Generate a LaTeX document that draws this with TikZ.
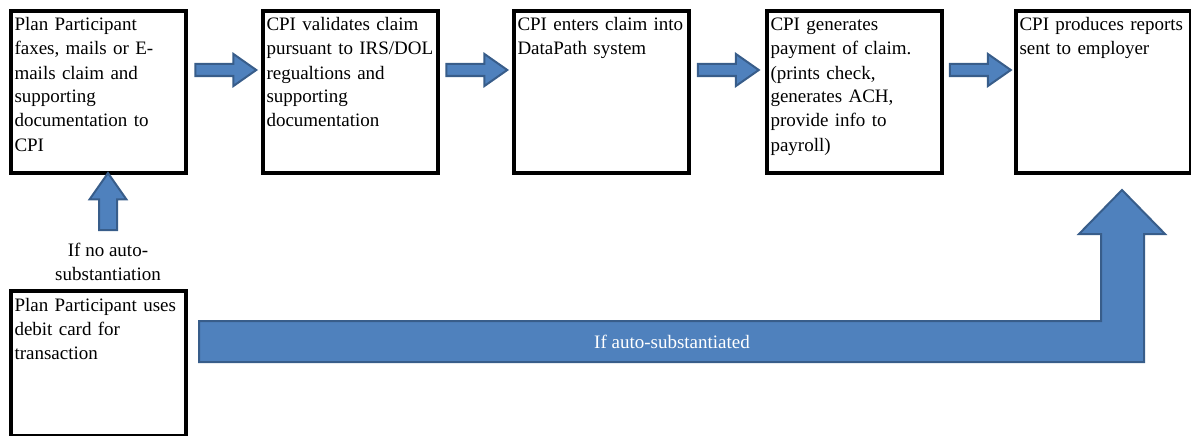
\documentclass[tikz,border=0pt]{standalone}
\usepackage{fontspec}
\setmainfont{Liberation Serif}
\usepackage{xcolor}
\usepackage{tikz}
\usetikzlibrary{shapes.arrows}

\definecolor{flowfill}{HTML}{4F81BD}
\definecolor{flowline}{HTML}{385D8A}

\begin{document}
\begin{tikzpicture}[x=1pt, y=-1pt,
  stepbox/.style={draw, line width=4pt, anchor=north west, align=left,
                  text width=168pt, inner xsep=3.5pt, inner ysep=7pt,
                  text height=13pt, text depth=#1,
                  font=\fontsize{19}{24}\selectfont},
  stepbox/.default=135pt,
  flow/.style={single arrow, fill=flowfill, draw=flowline, line width=2pt,
               single arrow tip angle=70},
  bigflow/.style={fill=flowfill, draw=flowline, line width=2pt},
  note/.style={align=center, inner sep=0pt, font=\fontsize{19}{24}\selectfont}
]
\useasboundingbox (0,0) rectangle (1191,436);

% claim steps, left to right
\node[stepbox] (p1) at (9,9)
  {Plan Participant\\faxes, mails or E-\\mails claim and\\supporting\\documentation to\\CPI};
\node[stepbox] (p2) at (261,9)
  {CPI validates claim\\pursuant to IRS/DOL\\regualtions and\\supporting\\documentation};
\node[stepbox] (p3) at (512,9)
  {CPI enters claim into\\DataPath system};
\node[stepbox] (p4) at (765,9)
  {CPI generates\\payment of claim.\\(prints check,\\generates ACH,\\provide info to\\payroll)};
\node[stepbox] (p5) at (1014,9)
  {CPI produces reports\\sent to employer};

% debit card path
\node[stepbox=118pt] (debit) at (9,289)
  {Plan Participant uses\\debit card for\\transaction};

% block arrows between the steps
\node[flow, minimum height=61pt, minimum width=30pt, inner sep=5pt,
      single arrow head extend=10pt] (a12) at (221.5,70) {};
\node[flow, minimum height=61pt, minimum width=30pt, inner sep=5pt,
      single arrow head extend=10pt] (a23) at (472.5,70) {};
\node[flow, minimum height=61pt, minimum width=30pt, inner sep=5pt,
      single arrow head extend=10pt] (a34) at (724,70) {};
\node[flow, minimum height=61pt, minimum width=30pt, inner sep=5pt,
      single arrow head extend=10pt] (a45) at (976,70) {};

% debit card -> manual claim
\node[flow, shape border rotate=90, minimum height=57pt, minimum width=35pt,
      inner sep=8pt, single arrow head extend=9.5pt] (up) at (108,208) {};
\node[note, anchor=north] (manual) at (108,243) {If no auto-\\substantiation};

% debit card -> reports
\draw[bigflow] (199,321) -- (1101,321) -- (1101,234) -- (1079,234)
  -- (1122,190) -- (1165,234) -- (1144,234) -- (1144,362) -- (199,362) -- cycle;
\node[note, text=white, anchor=base] (auto) at (672,348) {If auto-substantiated};
\end{tikzpicture}
\end{document}
